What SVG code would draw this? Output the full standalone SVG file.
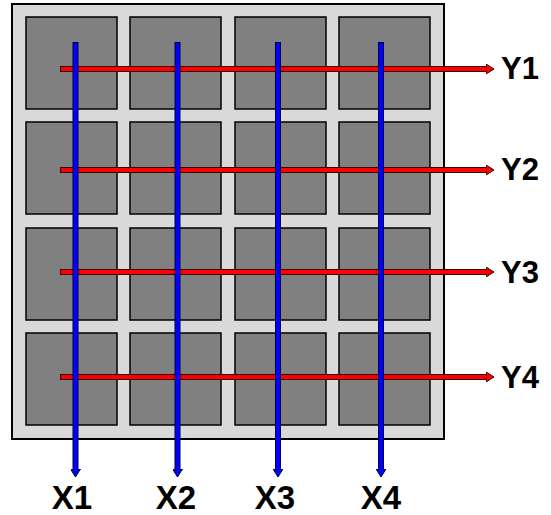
<svg xmlns="http://www.w3.org/2000/svg" width="551" height="515" viewBox="0 0 551 515">
<style>
.cell{fill:#808080;stroke:#000;stroke-width:1.5}
.lbl{font-family:"Liberation Sans",Arial,sans-serif;font-weight:bold;fill:#000}
.ly{font-size:31px}
.lx{font-size:33px}
.redo{stroke:#300;stroke-width:6}
.red{stroke:#ff0000;stroke-width:4}
.blueo{stroke:#00003a;stroke-width:6}
.blue{stroke:#0000ff;stroke-width:4}
</style>
<defs>
<marker id="ra" viewBox="0 0 8 10" refX="1" refY="5" markerWidth="8" markerHeight="10" markerUnits="userSpaceOnUse" orient="auto">
<path d="M0,0 L8,5 L0,10 Z" fill="#ff0000" stroke="#300" stroke-width="1"/>
</marker>
<marker id="ba" viewBox="0 0 8 10" refX="1" refY="5" markerWidth="8" markerHeight="10" markerUnits="userSpaceOnUse" orient="auto">
<path d="M0,0 L8,5 L0,10 Z" fill="#0000ff" stroke="#00003a" stroke-width="1"/>
</marker>
</defs>
<g id="board">
<rect x="12" y="4" width="432" height="435" fill="#d9d9d9" stroke="#000" stroke-width="2"/>
</g>
<g id="cells">
<rect class="cell" x="26" y="17" width="91" height="92"/>
<rect class="cell" x="130" y="17" width="91" height="92"/>
<rect class="cell" x="235" y="17" width="91" height="92"/>
<rect class="cell" x="339" y="17" width="91" height="92"/>
<rect class="cell" x="26" y="122" width="91" height="92"/>
<rect class="cell" x="130" y="122" width="91" height="92"/>
<rect class="cell" x="235" y="122" width="91" height="92"/>
<rect class="cell" x="339" y="122" width="91" height="92"/>
<rect class="cell" x="26" y="228" width="91" height="92"/>
<rect class="cell" x="130" y="228" width="91" height="92"/>
<rect class="cell" x="235" y="228" width="91" height="92"/>
<rect class="cell" x="339" y="228" width="91" height="92"/>
<rect class="cell" x="26" y="333" width="91" height="92"/>
<rect class="cell" x="130" y="333" width="91" height="92"/>
<rect class="cell" x="235" y="333" width="91" height="92"/>
<rect class="cell" x="339" y="333" width="91" height="92"/>
</g>
<g id="connectors">
<g id="rows">
<line class="redo" x1="60" y1="69" x2="487" y2="69"/>
<line class="red" x1="61" y1="69" x2="487" y2="69" marker-end="url(#ra)"/>
<line class="redo" x1="60" y1="170" x2="487" y2="170"/>
<line class="red" x1="61" y1="170" x2="487" y2="170" marker-end="url(#ra)"/>
<line class="redo" x1="60" y1="272" x2="487" y2="272"/>
<line class="red" x1="61" y1="272" x2="487" y2="272" marker-end="url(#ra)"/>
<line class="redo" x1="60" y1="377" x2="487" y2="377"/>
<line class="red" x1="61" y1="377" x2="487" y2="377" marker-end="url(#ra)"/>
</g>
<g id="cols">
<line class="blueo" x1="75.5" y1="42" x2="75.5" y2="470"/>
<line class="blue" x1="75.5" y1="43" x2="75.5" y2="470" marker-end="url(#ba)"/>
<line class="blueo" x1="177.5" y1="42" x2="177.5" y2="470"/>
<line class="blue" x1="177.5" y1="43" x2="177.5" y2="470" marker-end="url(#ba)"/>
<line class="blueo" x1="278" y1="42" x2="278" y2="470"/>
<line class="blue" x1="278" y1="43" x2="278" y2="470" marker-end="url(#ba)"/>
<line class="blueo" x1="381" y1="42" x2="381" y2="470"/>
<line class="blue" x1="381" y1="43" x2="381" y2="470" marker-end="url(#ba)"/>
</g>
</g>
<g id="labels">
<text class="lbl ly" x="501" y="79">Y1</text>
<text class="lbl ly" x="501" y="180">Y2</text>
<text class="lbl ly" x="501" y="283">Y3</text>
<text class="lbl ly" x="501" y="388">Y4</text>
<text class="lbl lx" x="72" y="509" text-anchor="middle">X1</text>
<text class="lbl lx" x="176" y="509" text-anchor="middle">X2</text>
<text class="lbl lx" x="275" y="509" text-anchor="middle">X3</text>
<text class="lbl lx" x="381" y="509" text-anchor="middle">X4</text>
</g>
</svg>
